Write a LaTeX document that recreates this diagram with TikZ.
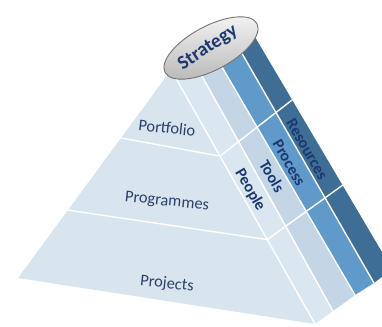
\documentclass[tikz,border=0pt]{standalone}
\usepackage{fontspec}
\setmainfont{Carlito}
\usetikzlibrary{shapes.geometric}
\definecolor{face}{RGB}{216,228,238}
\definecolor{cpeople}{RGB}{219,231,240}
\definecolor{ctools}{RGB}{196,214,230}
\definecolor{cprocess}{RGB}{96,154,202}
\definecolor{cres}{RGB}{62,110,150}
\definecolor{navy}{RGB}{28,56,112}
\definecolor{frontink}{RGB}{44,64,104}
\begin{document}
\begin{tikzpicture}[x=1pt,y=-1pt,
  sep/.style={draw=white, line width=1.4pt, line cap=round, line join=round},
  frontlabel/.style={text=frontink, font=\fontsize{16.4}{18}\selectfont, rotate=-6, inner sep=0pt},
  sidelabel/.style={text=navy, font=\bfseries\fontsize{16}{18}\selectfont, rotate=-60, inner sep=0pt},
  strat/.style={ellipse, draw=black!55, line width=0.9pt, minimum width=104pt, minimum height=44pt,
    inner sep=0pt, top color=gray!8, bottom color=gray!55, rotate=28},
  stratlabel/.style={text=navy, font=\bfseries\fontsize{19.5}{21}\selectfont, rotate=33, inner sep=0pt}
]
\useasboundingbox (0,0) rectangle (382,326);
% edge lines (top point, bottom point)
\coordinate (Lt) at (171,70);  \coordinate (Lb) at (18,278);
\coordinate (A0) at (178,82);  \coordinate (B0) at (315,324);
\coordinate (A1) at (203,78);  \coordinate (B1) at (333,311);
\coordinate (A2) at (222,67);  \coordinate (B2) at (355,295);
\coordinate (A3) at (240,50);  \coordinate (B3) at (374,283);
\coordinate (A4) at (252,32);  \coordinate (B4) at (392,269);
% ellipse axis (hidden tops)
\coordinate (X1) at (150,75.6); \coordinate (X2) at (270,15);
\coordinate (Ap) at (intersection of A0--B0 and Lt--Lb);
\coordinate (T1) at (intersection of A1--B1 and X1--X2);
\coordinate (T2) at (intersection of A2--B2 and X1--X2);
\coordinate (T3) at (intersection of A3--B3 and X1--X2);
\coordinate (T4) at (intersection of A4--B4 and X1--X2);
% cross lines
\coordinate (Ua) at (220,156); \coordinate (Ub) at (292,100);
\coordinate (Da) at (268,239); \coordinate (Db) at (340,187);
\coordinate (Pa) at (121,138);
\coordinate (Qa) at (67,210);
\coordinate (U0) at (intersection of A0--B0 and Ua--Ub);
\coordinate (U4) at (intersection of A4--B4 and Ua--Ub);
\coordinate (D0) at (intersection of A0--B0 and Da--Db);
\coordinate (D4) at (intersection of A4--B4 and Da--Db);
\coordinate (P0) at (intersection of Lt--Lb and Pa--Ua);
\coordinate (Q0) at (intersection of Lt--Lb and Qa--Da);
% faces
\fill[face] (Ap) -- (Lb) -- (B0) -- cycle;
\fill[cpeople] (Ap) -- (B0) -- (B1) -- (T1) -- cycle;
\fill[ctools] (T1) -- (B1) -- (B2) -- (T2) -- cycle;
\fill[cprocess] (T2) -- (B2) -- (B3) -- (T3) -- cycle;
\fill[cres] (T3) -- (B3) -- (B4) -- (T4) -- cycle;
% separators
\draw[sep] (Ap) -- (B0);
\draw[sep] (T1) -- (B1);
\draw[sep] (T2) -- (B2);
\draw[sep] (T3) -- (B3);
\draw[sep] (P0) -- (U0) -- (U4);
\draw[sep] (Q0) -- (D0) -- (D4);
% labels
\node[frontlabel] (portfolio) at (167,128) {Portfolio};
\node[frontlabel] (programmes) at (167,202) {Programmes};
\node[frontlabel] (projects) at (167,284) {Projects};
\node[sidelabel] (people) at (250,190) {People};
\node[sidelabel] (tools) at (272,176) {Tools};
\node[sidelabel] (process) at (289,163) {Process};
\node[sidelabel] (resources) at (307,149) {Resources};
% strategy cap
\node[strat] (strategy) at (211,48) {};
\node[stratlabel] (strattext) at (208,48) {Strategy};
\end{tikzpicture}
\end{document}
